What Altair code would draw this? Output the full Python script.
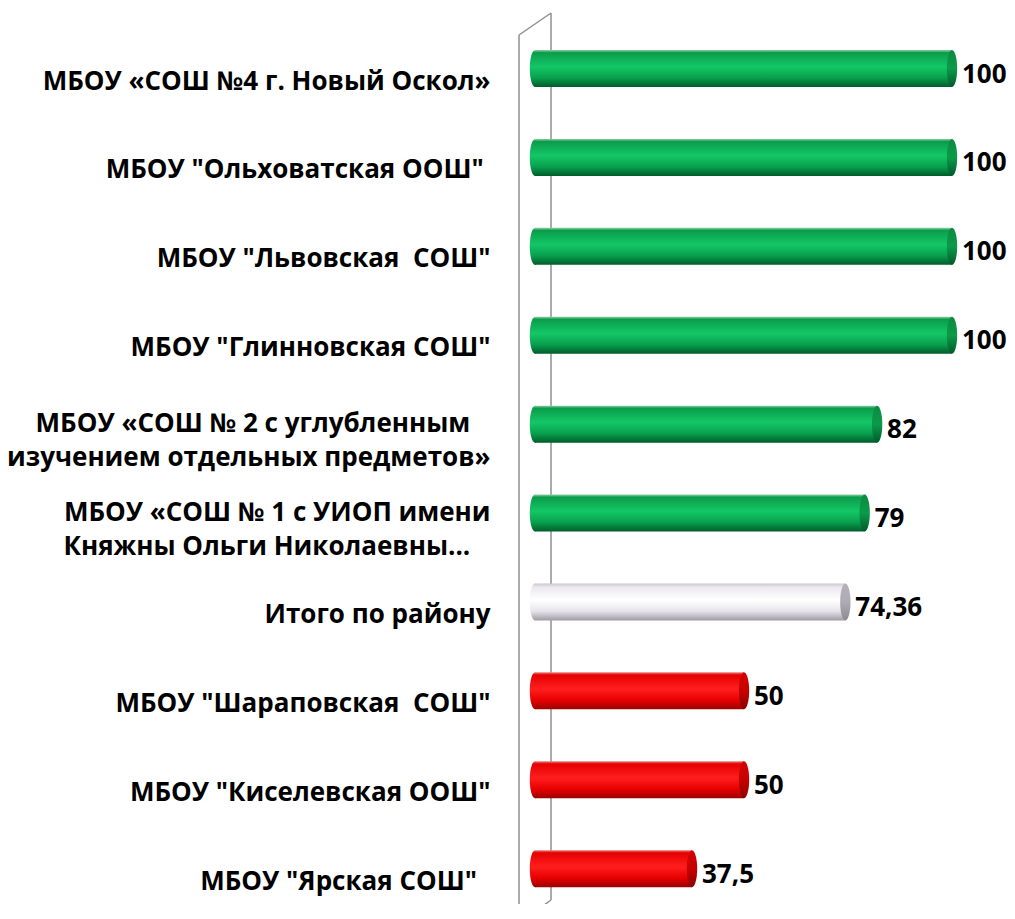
import altair as alt
import pandas as pd

NB = "\u00a0"
END = "\u200d"
schools = [
    "МБОУ «СОШ №4 г. Новый Оскол»",
    "МБОУ \"Ольховатская ООШ\"" + NB + END,
    "МБОУ \"Львовская" + NB + " СОШ\"",
    "МБОУ \"Глинновская СОШ\"",
    "МБОУ «СОШ № 2 с углубленным" + NB * 3 + END + "\nизучением отдельных предметов»",
    "МБОУ «СОШ № 1 с УИОП имени\nКняжны Ольги Николаевны..." + NB * 3 + END,
    "Итого по району",
    "МБОУ \"Шараповская" + NB + " СОШ\"",
    "МБОУ \"Киселевская ООШ\"",
    "МБОУ \"Ярская СОШ\"" + NB * 2 + END,
]
values = [100, 100, 100, 100, 82, 79, 74.36, 50, 50, 37.5]
value_labels = ["100", "100", "100", "100", "82", "79", "74,36", "50", "50", "37,5"]
groups = ["high"] * 6 + ["total"] + ["low"] * 3

df = pd.DataFrame({"school": schools, "value": values, "label": value_labels, "group": groups})

FONT = "Open Sans"
FS = 26


def grad(stops):
    return {
        "gradient": "linear", "x1": 0, "x2": 0, "y1": 0, "y2": 1,
        "stops": [{"offset": o, "color": c} for o, c in stops],
    }


body = {
    "high": grad([(0, "#8fd0a6"), (0.07, "#0a9c4b"), (0.45, "#14c766"), (0.75, "#08a04d"), (1, "#005c2a")]),
    "total": grad([(0, "#c9c5cf"), (0.1, "#ebe9ef"), (0.45, "#ffffff"), (0.75, "#e6e4ea"), (1, "#9f9ba6")]),
    "low": grad([(0, "#e88080"), (0.07, "#e60000"), (0.45, "#ff1e1e"), (0.75, "#e80000"), (1, "#9a0000")]),
}
cap = {
    "high": grad([(0, "#0a8a42"), (0.5, "#0c9a4a"), (1, "#005a2a")]),
    "total": grad([(0, "#b4b1ba"), (0.5, "#aeabb4"), (1, "#8d8a94")]),
    "low": grad([(0, "#d40000"), (0.5, "#c80000"), (1, "#8a0000")]),
}

y_enc = alt.Y(
    "school:N",
    sort=schools,
    scale=alt.Scale(paddingInner=0.584, paddingOuter=0.15),
    axis=alt.Axis(
        title=None, domain=False, ticks=False, tickSize=0, grid=False,
        labelPadding=46, labelFontSize=FS, labelFont=FONT, labelFontWeight="bold",
        labelColor="#000000", labelLimit=0, labelLineHeight=34,
        labelOffset={"condition": {"test": "indexof(datum.label, '\\n') >= 0", "value": 0}, "value": 13},
        labelExpr="split(datum.label, '\\n')",
    ),
)
x_scale = alt.Scale(domain=[0, 100], nice=False, zero=True)
x_enc = alt.X("value:Q", scale=x_scale, axis=None)

base = alt.Chart(df)

wall_df = pd.DataFrame({"k": [0]})
wall = alt.Chart(wall_df)
WALL = dict(color="#8f8f8f", strokeWidth=1.5)
wall_layers = [
    wall.mark_rule(**WALL).encode(x=alt.value(-17), x2=alt.value(-17), y=alt.value(-1.7), y2=alt.value(900)),
    wall.mark_rule(**WALL).encode(x=alt.value(15), x2=alt.value(15), y=alt.value(-23.7), y2=alt.value(863.3)),
    wall.mark_rule(**WALL).encode(x=alt.value(-17), x2=alt.value(15), y=alt.value(-1.7), y2=alt.value(-23.7)),
    wall.mark_rule(**WALL).encode(x=alt.value(15), x2=alt.value(-11), y=alt.value(863.3), y2=alt.value(882.3)),
]

ELLIPSE = "M0,-1 A0.28,1 0 1,1 0,1 A0.28,1 0 1,1 0,-1 Z"
START = -0.25

left_layers = []
bar_layers = []
cap_layers = []
for g in ["high", "total", "low"]:
    sub = base.transform_filter(alt.datum.group == g)
    left_layers.append(
        sub.mark_point(shape=ELLIPSE, size=1369, filled=True, opacity=1, fill=body[g], strokeWidth=0)
        .encode(x=alt.datum(START, scale=x_scale, axis=None), y=y_enc)
    )
    bar_layers.append(
        sub.mark_bar(color=body[g])
        .encode(x=x_enc, x2=alt.datum(START), y=y_enc)
    )
    cap_layers.append(
        sub.mark_point(shape=ELLIPSE, size=1369, filled=True, opacity=1, fill=cap[g], strokeWidth=0)
        .encode(x=x_enc, y=y_enc)
    )

text = base.mark_text(
    align="left", baseline="middle", dx=10, dy=6, fontSize=FS, font=FONT,
    fontWeight="bold", color="#000000",
).encode(x=x_enc, y=y_enc, text="label:N")

chart = alt.layer(*wall_layers, *left_layers, *bar_layers, *cap_layers, text).properties(
    width=416,
    height=863.8,
    autosize=alt.AutoSizeParams(type="none"),
    padding={"left": 528, "top": 28.7, "right": 55, "bottom": 3},
    background="#ffffff",
).configure_view(stroke=None)

chart.save("out.html", embed_options={"renderer": "svg", "actions": False})
